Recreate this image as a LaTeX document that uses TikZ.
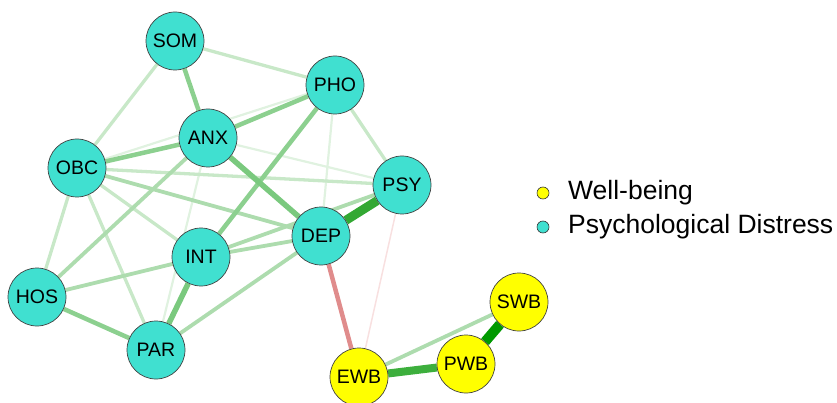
\documentclass[tikz,border=0pt]{standalone}
\usepackage{fontspec}
\setmainfont{Liberation Sans}
\usetikzlibrary{backgrounds}
\definecolor{teal1}{HTML}{40E0D0}
\definecolor{yel1}{HTML}{FFFF00}
\definecolor{gA}{HTML}{E0F2E0}
\definecolor{gB}{HTML}{C8E8C8}
\definecolor{gC}{HTML}{ADDCAE}
\definecolor{gD}{HTML}{8CD08F}
\definecolor{gE}{HTML}{7AC97E}
\definecolor{gF}{HTML}{33A833}
\definecolor{gG}{HTML}{3DAF3D}
\definecolor{gH}{HTML}{009900}
\definecolor{rA}{HTML}{E08C8C}
\definecolor{rB}{HTML}{F8E0E0}
\tikzset{
  vnode/.style={circle, draw=black!75, line width=0.7pt, minimum size=58pt, inner sep=0pt, font=\fontsize{19.5}{21}\selectfont},
  pd/.style={vnode, fill=teal1},
  wb/.style={vnode, fill=yel1},
  e1/.style={gA, line width=2.2pt},
  e2/.style={gB, line width=3.3pt},
  e3/.style={gC, line width=3.8pt},
  e4/.style={gD, line width=4.5pt},
  e5/.style={gE, line width=5.5pt},
  e6/.style={gF, line width=9pt},
  e7/.style={gG, line width=8pt},
  e8/.style={gH, line width=10pt},
  neg1/.style={rA, line width=4.5pt},
  neg2/.style={rB, line width=1.5pt},
  legdot/.style={circle, draw=black!80, line width=0.6pt, minimum size=12pt, inner sep=0pt},
  legtxt/.style={anchor=west, font=\fontsize{26.5}{28}\selectfont, inner sep=0pt}
}
\begin{document}
\begin{tikzpicture}[x=1pt,y=-1pt]
\useasboundingbox (0,0) rectangle (837,403);
\node[pd] (SOM) at (175,41) {SOM};
\node[pd] (PHO) at (335,85) {PHO};
\node[pd] (ANX) at (208,138) {ANX};
\node[pd] (OBC) at (77,168) {OBC};
\node[pd] (PSY) at (402,185) {PSY};
\node[pd] (DEP) at (321,236) {DEP};
\node[pd] (INT) at (201,257) {INT};
\node[pd] (HOS) at (37,297) {HOS};
\node[pd] (PAR) at (156,350) {PAR};
\node[wb] (SWB) at (519,302) {SWB};
\node[wb] (PWB) at (466,364) {PWB};
\node[wb] (EWB) at (359,377) {EWB};
\begin{pgfonlayer}{background}
\draw[e1] (OBC) -- (PHO);
\draw[e1] (ANX) -- (PSY);
\draw[e1] (PHO) -- (DEP);
\draw[e1] (PAR) -- (ANX);
\draw[e2] (OBC) -- (PSY);
\draw[e2] (SOM) -- (OBC);
\draw[e2] (SOM) -- (PHO);
\draw[e2] (PHO) -- (PSY);
\draw[e2] (OBC) -- (HOS);
\draw[e2] (OBC) -- (PAR);
\draw[e2] (OBC) -- (INT);
\draw[e3] (HOS) -- (INT);
\draw[e3] (HOS) -- (ANX);
\draw[e3] (OBC) -- (DEP);
\draw[e3] (PAR) -- (DEP);
\draw[e3] (INT) -- (DEP);
\draw[e3] (INT) -- (PSY);
\draw[e3] (EWB) -- (SWB);
\draw[e4] (SOM) -- (ANX);
\draw[e4] (PHO) -- (ANX);
\draw[e4] (OBC) -- (ANX);
\draw[e4] (PHO) -- (INT);
\draw[e4] (HOS) -- (PAR);
\draw[e5] (ANX) -- (DEP);
\draw[e5] (INT) -- (PAR);
\draw[e6] (DEP) -- (PSY);
\draw[e7] (EWB) -- (PWB);
\draw[e8] (PWB) -- (SWB);
\draw[neg1] (DEP) -- (EWB);
\draw[neg2] (PSY) -- (EWB);
\end{pgfonlayer}
\node[legdot, fill=yel1] (L1) at (543,193) {};
\node[legdot, fill=teal1] (L2) at (543,227) {};
\node[legtxt] (T1) at (568,193) {Well-being};
\node[legtxt] (T2) at (568,227) {Psychological Distress};
\end{tikzpicture}
\end{document}
